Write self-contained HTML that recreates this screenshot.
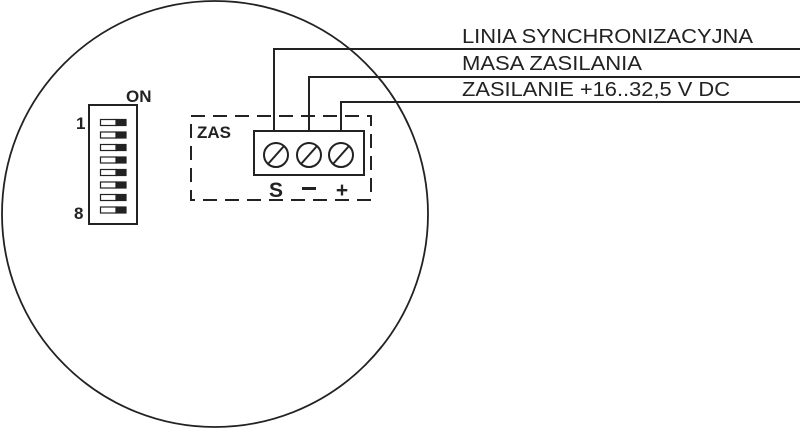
<!DOCTYPE html>
<html><head><meta charset="utf-8"><style>
html,body{margin:0;padding:0;background:#fff;width:800px;height:429px;overflow:hidden}
svg{display:block}
</style></head><body>
<svg width="800" height="429" viewBox="0 0 800 429" xmlns="http://www.w3.org/2000/svg" font-family="Liberation Sans, Arial, sans-serif">
<circle cx="215" cy="214" r="213" fill="none" stroke="#222" stroke-width="1.8"/>
<g fill="none" stroke="#222" stroke-width="2">
<polyline points="274,131 274,49 800,49"/>
<polyline points="309,131 309,77 800,77"/>
<polyline points="341,131 341,102 800,102"/>
</g>
<g fill="#222" font-size="20">
<text x="462" y="43" textLength="291" lengthAdjust="spacingAndGlyphs">LINIA SYNCHRONIZACYJNA</text>
<text x="462" y="70" textLength="180" lengthAdjust="spacingAndGlyphs">MASA ZASILANIA</text>
<text x="462" y="96" textLength="268" lengthAdjust="spacingAndGlyphs">ZASILANIE +16..32,5 V DC</text>
</g>
<rect x="191" y="116" width="180" height="84" fill="none" stroke="#222" stroke-width="2" stroke-dasharray="14,8"/>
<text x="197" y="138" font-size="17" font-weight="bold" fill="#222">ZAS</text>
<rect x="254" y="131" width="110" height="44" fill="#fff" stroke="#222" stroke-width="2"/>
<g fill="none" stroke="#222" stroke-width="2">
<circle cx="276" cy="155" r="12"/><line x1="268" y1="164" x2="284" y2="146"/>
<circle cx="309" cy="155" r="12"/><line x1="301" y1="164" x2="317" y2="146"/>
<circle cx="341" cy="155" r="12"/><line x1="333" y1="164" x2="349" y2="146"/>
</g>
<g fill="#222" font-size="21" font-weight="bold" text-anchor="middle">
<text x="276" y="197">S</text>
<text x="342" y="197">+</text>
</g>
<rect x="302" y="187" width="14" height="3" fill="#222"/>
<rect x="89" y="105" width="48" height="119" fill="#fff" stroke="#222" stroke-width="2"/>
<g stroke="#222" stroke-width="1.2">
<g id="sw"><rect x="100.5" y="119.5" width="16" height="6" fill="#fff"/><rect x="116" y="119.5" width="10" height="6" fill="#222"/></g>
<use href="#sw" y="12.5"/><use href="#sw" y="25"/><use href="#sw" y="37.5"/><use href="#sw" y="50"/><use href="#sw" y="62.5"/><use href="#sw" y="75"/><use href="#sw" y="87.5"/>
</g>
<g fill="#222" font-size="17" font-weight="bold">
<text x="126" y="102">ON</text>
<text x="76" y="129">1</text>
<text x="74" y="219">8</text>
</g>
</svg>
</body></html>
